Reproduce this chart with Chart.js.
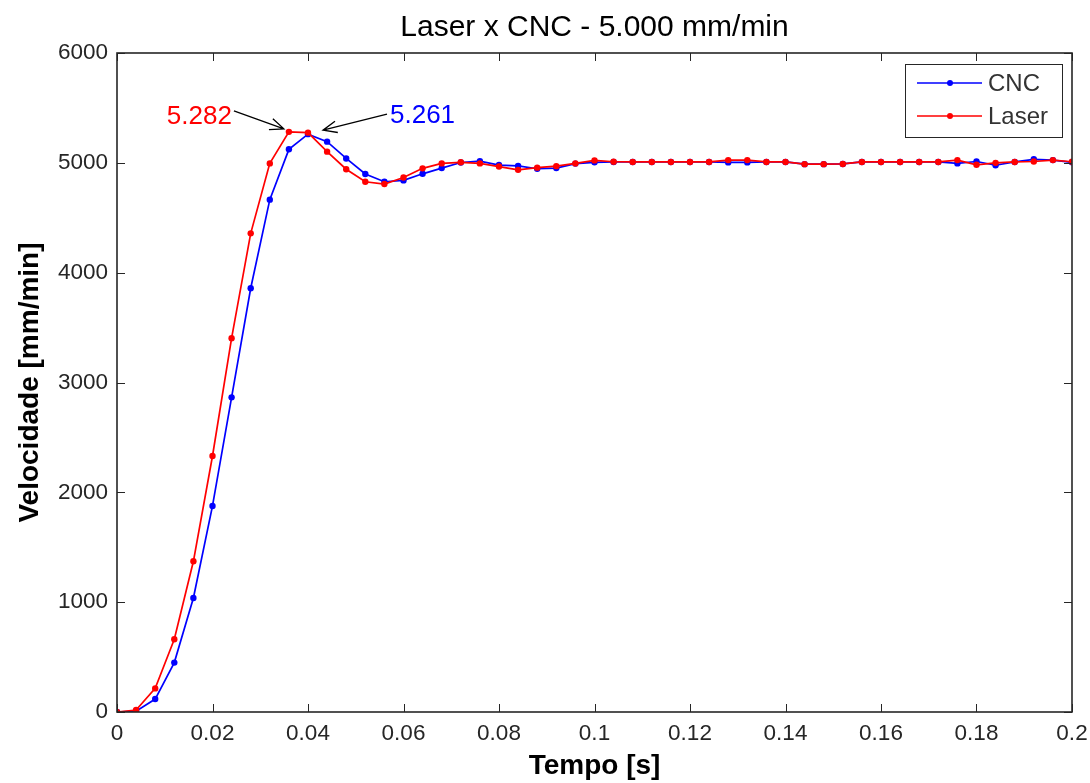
<!DOCTYPE html>
<html>
<head>
<meta charset="utf-8">
<script src="https://cdn.jsdelivr.net/npm/chart.js@4.4.1/dist/chart.umd.min.js"></script>
<style>
html,body{margin:0;padding:0;background:#fff;}
#wrap{width:1090px;height:783px;position:relative;}
</style>
</head>
<body>
<div id="wrap"><canvas id="c" width="1090" height="783"></canvas></div>
<script>
const chartTitle = "Laser x CNC - 5.000 mm/min";
const xAxisTitle = "Tempo [s]";
const yAxisTitle = "Velocidade [mm/min]";
const seriesNames = ["CNC", "Laser"];
const time = [0, 0.004, 0.008, 0.012, 0.016, 0.02, 0.024, 0.028, 0.032, 0.036,
  0.04, 0.044, 0.048, 0.052, 0.056, 0.06, 0.064, 0.068, 0.072, 0.076,
  0.08, 0.084, 0.088, 0.092, 0.096, 0.1, 0.104, 0.108, 0.112, 0.116,
  0.12, 0.124, 0.128, 0.132, 0.136, 0.14, 0.144, 0.148, 0.152, 0.156,
  0.16, 0.164, 0.168, 0.172, 0.176, 0.18, 0.184, 0.188, 0.192, 0.196, 0.2];
const cnc = [0, 8, 118, 450, 1038, 1876, 2865, 3858, 4665, 5123,
  5261, 5193, 5040, 4899, 4828, 4840, 4900, 4952, 5003, 5015,
  4980, 4972, 4946, 4952, 4993, 5005, 5008, 5008, 5008, 5008,
  5008, 5008, 5004, 5004, 5008, 5008, 4988, 4988, 4990, 5008,
  5008, 5008, 5008, 5008, 4995, 5012, 4978, 5008, 5032, 5025, 5005];
const laser = [0, 18, 215, 662, 1372, 2331, 3403, 4358, 4995, 5282,
  5275, 5102, 4942, 4828, 4807, 4866, 4950, 4995, 5005, 4995,
  4966, 4936, 4956, 4970, 4995, 5022, 5010, 5008, 5008, 5008,
  5008, 5008, 5025, 5025, 5008, 5008, 4988, 4988, 4990, 5008,
  5008, 5008, 5008, 5008, 5025, 4982, 5000, 5008, 5012, 5025, 5010];
const xTicks = [0, 0.02, 0.04, 0.06, 0.08, 0.1, 0.12, 0.14, 0.16, 0.18, 0.2];
const yTicks = [0, 1000, 2000, 3000, 4000, 5000, 6000];
const xTickLabels = ["0", "0.02", "0.04", "0.06", "0.08", "0.1", "0.12", "0.14", "0.16", "0.18", "0.2"];
const yTickLabels = ["0", "1000", "2000", "3000", "4000", "5000", "6000"];
const peakLabels = ["5.282", "5.261"];
const peakIndex = [9, 10];

const FONT = "'Liberation Sans', Arial, sans-serif";
const AXIS_COLOR = "#262626";

const frameAndTicks = {
  id: 'frameAndTicks',
  afterDatasetsDraw(chart) {
    const {ctx, chartArea: a, scales: {x, y}} = chart;
    ctx.save();
    // title centred over the plot area
    ctx.fillStyle = '#000';
    ctx.font = "30px " + FONT;
    ctx.textAlign = 'center';
    ctx.textBaseline = 'middle';
    ctx.fillText(chartTitle, (a.left + a.right) / 2, 28);

    ctx.strokeStyle = AXIS_COLOR;
    ctx.lineWidth = 1;
    const L = 8;
    ctx.beginPath();
    xTicks.forEach(v => {
      const px = Math.round(x.getPixelForValue(v)) + 0.5;
      ctx.moveTo(px, a.bottom); ctx.lineTo(px, a.bottom - L);
      ctx.moveTo(px, a.top); ctx.lineTo(px, a.top + L);
    });
    yTicks.forEach(v => {
      const py = Math.round(y.getPixelForValue(v)) + 0.5;
      ctx.moveTo(a.left, py); ctx.lineTo(a.left + L, py);
      ctx.moveTo(a.right, py); ctx.lineTo(a.right - L, py);
    });
    ctx.stroke();
    ctx.lineWidth = 1.6;
    ctx.strokeRect(a.left, a.top, a.right - a.left, a.bottom - a.top);

    // annotations
    const arrow = (x1, y1, x2, y2) => {
      ctx.beginPath();
      ctx.moveTo(x1, y1); ctx.lineTo(x2, y2);
      const ang = Math.atan2(y2 - y1, x2 - x1);
      const h = 15, s = 0.4;
      ctx.moveTo(x2 - h * Math.cos(ang - s), y2 - h * Math.sin(ang - s));
      ctx.lineTo(x2, y2);
      ctx.lineTo(x2 - h * Math.cos(ang + s), y2 - h * Math.sin(ang + s));
      ctx.stroke();
    };
    ctx.strokeStyle = '#000';
    ctx.lineWidth = 1.3;
    const rx = x.getPixelForValue(time[peakIndex[0]]), ry = y.getPixelForValue(laser[peakIndex[0]]);
    const bx = x.getPixelForValue(time[peakIndex[1]]), by = y.getPixelForValue(cnc[peakIndex[1]]);
    arrow(rx - 55, ry - 21, rx - 5, ry - 3);
    arrow(bx + 79, by - 20, bx + 15, by - 4);
    ctx.font = "26px " + FONT;
    ctx.textBaseline = 'middle';
    ctx.fillStyle = '#ff0000';
    ctx.textAlign = 'right';
    ctx.fillText(peakLabels[0], rx - 57, ry - 15);
    ctx.fillStyle = '#0000ff';
    ctx.textAlign = 'left';
    ctx.fillText(peakLabels[1], bx + 82, by - 18);

    // legend
    const lx = 905, ly = 64, lw = 157, lh = 73;
    ctx.fillStyle = '#fff';
    ctx.fillRect(lx, ly, lw, lh);
    ctx.strokeStyle = AXIS_COLOR;
    ctx.lineWidth = 1;
    ctx.strokeRect(lx + 0.5, ly + 0.5, lw, lh);
    const colors = ['#0000ff', '#ff0000'];
    seriesNames.forEach((n, i) => {
      const yy = ly + 19 + i * 33;
      ctx.strokeStyle = colors[i];
      ctx.lineWidth = 1.4;
      ctx.beginPath(); ctx.moveTo(lx + 12, yy); ctx.lineTo(lx + 77, yy); ctx.stroke();
      ctx.fillStyle = colors[i];
      ctx.beginPath(); ctx.arc(lx + 45, yy, 3, 0, Math.PI * 2); ctx.fill();
      ctx.fillStyle = '#333';
      ctx.font = "24px " + FONT;
      ctx.textAlign = 'left';
      ctx.fillText(n, lx + 83, yy + 1);
    });
    ctx.restore();
  }
};

new Chart(document.getElementById('c'), {
  type: 'line',
  data: {
    datasets: [
      {
        label: seriesNames[0],
        data: time.map((t, i) => ({x: t, y: cnc[i]})),
        borderColor: '#0000ff', backgroundColor: '#0000ff',
        borderWidth: 1.7, pointRadius: 3.2, pointBorderWidth: 0,
        pointStyle: 'circle', order: 1, tension: 0
      },
      {
        label: seriesNames[1],
        data: time.map((t, i) => ({x: t, y: laser[i]})),
        borderColor: '#ff0000', backgroundColor: '#ff0000',
        borderWidth: 1.7, pointRadius: 3.2, pointBorderWidth: 0,
        pointStyle: 'circle', order: 0, tension: 0
      }
    ]
  },
  options: {
    responsive: false,
    animation: false,
    layout: {padding: {left: 0, right: 18, top: 53, bottom: 0}},
    plugins: {
      legend: {display: false},
      tooltip: {enabled: false},
      title: {display: false}
    },
    scales: {
      x: {
        type: 'linear', min: 0, max: 0.2,
        grid: {display: false, drawTicks: false},
        border: {display: false},
        afterBuildTicks: s => { s.ticks = xTicks.map(v => ({value: v})); },
        afterFit: s => { s.height = 71; s.paddingRight = 0; s.paddingLeft = 0; },
        ticks: {
          color: AXIS_COLOR, padding: 8, maxRotation: 0, autoSkip: false,
          font: {family: FONT, size: 22.5},
          callback: (v, i) => xTickLabels[i]
        },
        title: {
          display: true, text: xAxisTitle, color: '#000',
          font: {family: FONT, size: 28, weight: 'bold', lineHeight: 1.2},
          padding: {top: 0, bottom: 0}
        }
      },
      y: {
        type: 'linear', min: 0, max: 6000,
        grid: {display: false, drawTicks: false},
        border: {display: false},
        afterBuildTicks: s => { s.ticks = yTicks.map(v => ({value: v})); },
        afterFit: s => { s.width = 117; s.paddingTop = 0; s.paddingBottom = 0; },
        ticks: {
          color: AXIS_COLOR, padding: 9,
          font: {family: FONT, size: 22.5},
          callback: (v, i) => yTickLabels[i]
        },
        title: {
          display: true, text: yAxisTitle, color: '#000',
          font: {family: FONT, size: 28, weight: 'bold', lineHeight: 1.2},
          padding: {top: 13, bottom: 0}
        }
      }
    }
  },
  plugins: [frameAndTicks]
});
</script>
</body>
</html>
